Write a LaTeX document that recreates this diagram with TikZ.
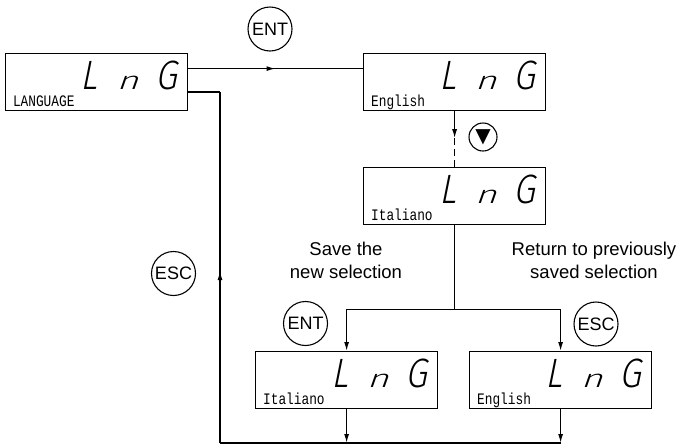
\documentclass[tikz,border=0pt]{standalone}
\usepackage{fontspec}
\setmainfont{Liberation Sans}
\newfontfamily\lcdfont[FakeStretch=0.8]{Liberation Mono}
\newfontfamily\segfont[FakeSlant=0.2,FakeStretch=0.85]{Fira Sans Light}
\newfontfamily\symfont{DejaVu Sans}
\usetikzlibrary{positioning,arrows.meta,calc,decorations.markings}
\newcommand{\lng}{{\segfont\fontsize{41}{41}\selectfont L\hspace{19pt}\scalebox{1.75}[1]{\fontsize{25}{25}\selectfont n}\hspace{17pt}G}}

\begin{document}
\begin{tikzpicture}[
x=1pt, y=-1pt,
display/.style={draw, line width=1.2pt, minimum width=182pt, minimum height=57pt, inner sep=0pt, anchor=north west},
seg/.style={anchor=base east, inner sep=0pt},
lcd/.style={anchor=base west, inner sep=0pt, font=\lcdfont\fontsize{16}{16}\selectfont},
key/.style={draw, circle, line width=1.1pt, minimum size=44pt, inner sep=0pt, font=\fontsize{18}{18}\selectfont},
note/.style={align=center, font=\fontsize{18.5}{23}\selectfont},
conn/.style={line width=1.3pt},
arrow/.style={conn, -{Latex[length=9pt,width=5pt]}},
midarrow/.style={conn, postaction={decorate}, decoration={markings, mark=at position #1 with {\arrow{Latex[length=9pt,width=5pt]}}}}
]
\useasboundingbox (0,0) rectangle (684,445);

% displays
\node[display] (eng1) at (363,53) {};
\node[display, below=56pt of eng1] (ita1) {};
\node[display, left=175pt of eng1] (lang) {};
\node[display] (ita2) at (255,351) {};
\node[display] (eng2) at (469,351) {};

\foreach \b/\t in {lang/LANGUAGE, eng1/English, ita1/Italiano, ita2/Italiano, eng2/English} {
  \node[seg] (\b-seg) at ([xshift=-11pt, yshift=22pt]\b.south east) {\lng};
  \node[lcd] (\b-lbl) at ([xshift=8pt, yshift=5pt]\b.south west) {\t};
}

% keys
\node[key] (ent1) at (270,29) {ENT};
\node[key] (esc1) at (173.5,273.5) {ESC};
\node[key] (ent2) at (305.5,323.5) {ENT};
\node[key] (esc2) at (596,324) {ESC};
\node[key, minimum size=28pt, font=\symfont\fontsize{20}{20}\selectfont] (down) at (483,137) {▼};

\node[note] (save) at (346,260) {Save the\\new selection};
\node[note] (back) at (594,260) {Return to previously\\saved selection};

% connectors
\draw[midarrow=0.5] ([yshift=13.5pt]lang.east) -- ([yshift=13.5pt]eng1.west);
\draw[arrow] (eng1.south) -- ++(0,27) coordinate (dtip);
\draw[line width=1pt, dash pattern=on 7pt off 4pt] (dtip) -- (ita1.north);
\draw[conn] (ita1.south) -- ++(0,84) coordinate (split);
\draw[arrow] (split) -| (ita2.north);
\draw[arrow] (split) -| (eng2.north);
\coordinate (base) at (220,443);
\coordinate (escturn) at (220,92);
\draw[arrow] (ita2.south) -- (ita2.south |- base);
\draw[arrow] (eng2.south) -- (eng2.south |- base);
\draw[conn] (eng2.south |- base) -- (base);
\draw[midarrow=0.49] (base) -- (escturn);
\draw[conn] (escturn) -- (escturn -| lang.east);
\end{tikzpicture}
\end{document}
